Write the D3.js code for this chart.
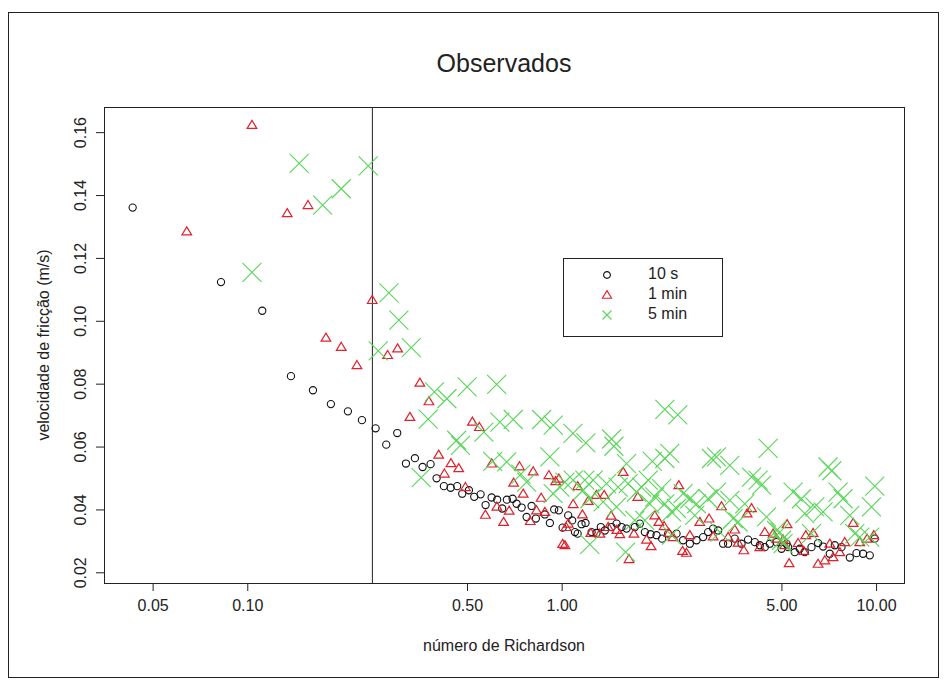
<!DOCTYPE html>
<html>
<head>
<meta charset="utf-8">
<script src="https://cdn.jsdelivr.net/npm/d3@7"></script>
<style>
  html, body { margin: 0; padding: 0; background: #fff; }
  svg { display: block; }
  text { font-family: "Liberation Sans", Arial, sans-serif; fill: #222; }
</style>
</head>
<body>
<svg id="chart" width="949" height="689"></svg>
<script>
// Richardson number (x) and friction velocity in m/s (y), one pair of arrays per averaging window
const ri10s = [0.0432,0.0825,0.1116,0.1377,0.1618,0.1845,0.2090,0.2316,0.2560,0.2767,0.2999,0.3196,0.3414,0.3611,0.3829,0.4001,0.4221,0.4434,0.4653,0.4827,0.5070,0.5271,0.5523,0.5728,0.5986,0.6236,0.6469,0.6696,0.6981,0.7189,0.7458,0.7736,0.8023,0.8279,0.8842,0.9173,0.9467,0.9797,1.007,1.049,1.080,1.102,1.124,1.157,1.191,1.245,1.291,1.332,1.372,1.441,1.495,1.550,1.608,1.709,1.773,1.839,1.918,2.003,2.087,2.181,2.319,2.434,2.557,2.685,2.818,2.923,3.032,3.145,3.262,3.384,3.553,3.733,3.917,4.115,4.268,4.427,4.592,4.824,5.004,5.190,5.252,5.513,5.718,5.932,6.231,6.540,6.785,7.125,7.390,7.762,8.250,8.665,9.092,9.550,9.906];
const u10s = [0.1360,0.1123,0.1032,0.0824,0.0779,0.0735,0.0712,0.0684,0.0658,0.0606,0.0643,0.0546,0.0563,0.0535,0.0544,0.0499,0.0474,0.0469,0.0474,0.0450,0.0461,0.0440,0.0448,0.0414,0.0438,0.0431,0.0403,0.0431,0.0434,0.0418,0.0406,0.0376,0.0411,0.0371,0.0384,0.0357,0.0400,0.0397,0.0342,0.0381,0.0365,0.0328,0.0323,0.0353,0.0357,0.0328,0.0325,0.0344,0.0333,0.0344,0.0355,0.0344,0.0339,0.0344,0.0355,0.0328,0.0321,0.0318,0.0307,0.0323,0.0323,0.0302,0.0291,0.0302,0.0312,0.0328,0.0339,0.0333,0.0291,0.0291,0.0307,0.0291,0.0304,0.0296,0.0286,0.0280,0.0291,0.0296,0.0275,0.0291,0.0280,0.0264,0.0275,0.0264,0.0280,0.0293,0.0282,0.0259,0.0286,0.0280,0.0247,0.0261,0.0259,0.0254,0.0307];

const ri1min = [0.0642,0.1035,0.1340,0.1560,0.1779,0.1990,0.2233,0.2497,0.2795,0.3007,0.3540,0.3782,0.3291,0.4063,0.4444,0.4705,0.4236,0.4941,0.5200,0.5474,0.5990,0.7343,0.8117,0.7033,0.7544,0.9106,0.9570,0.9797,0.8608,0.5720,0.6223,0.6808,0.6535,0.7943,0.8320,0.8842,1.007,1.049,1.088,1.124,1.164,1.214,1.289,1.365,1.569,1.747,1.436,1.406,1.498,1.238,1.323,1.531,1.697,1.638,1.862,1.925,1.978,2.038,2.118,2.192,1.033,1.024,2.358,3.224,2.944,2.750,3.553,4.017,3.890,4.427,4.705,5.212,2.557,2.423,2.495,3.032,3.384,3.640,3.797,4.268,2.262,4.824,5.125,5.290,5.976,6.305,8.452,5.649,5.889,6.540,6.870,7.299,7.666,7.952,7.125,8.875,9.363,9.833,5.062];
const u1min = [0.1284,0.1623,0.1342,0.1368,0.0946,0.0917,0.0859,0.1066,0.0891,0.0912,0.0803,0.0744,0.0694,0.0574,0.0547,0.0531,0.0514,0.0471,0.0679,0.0662,0.0546,0.0537,0.0521,0.0485,0.0450,0.0509,0.0490,0.0498,0.0437,0.0383,0.0409,0.0396,0.0360,0.0363,0.0397,0.0392,0.0290,0.0355,0.0417,0.0474,0.0384,0.0427,0.0446,0.0446,0.0519,0.0440,0.0380,0.0344,0.0335,0.0325,0.0323,0.0321,0.0323,0.0242,0.0304,0.0283,0.0381,0.0360,0.0347,0.0325,0.0344,0.0286,0.0477,0.0410,0.0371,0.0360,0.0336,0.0404,0.0387,0.0328,0.0323,0.0353,0.0318,0.0268,0.0262,0.0314,0.0312,0.0294,0.0270,0.0280,0.0312,0.0307,0.0286,0.0229,0.0318,0.0325,0.0357,0.0293,0.0268,0.0227,0.0238,0.0248,0.0264,0.0296,0.0291,0.0296,0.0307,0.0318,0.0304];

const ri5min = [0.1035,0.1463,0.2425,0.1990,0.1737,0.2822,0.3036,0.2609,0.3323,0.3575,0.3762,0.3937,0.4315,0.4636,0.4764,0.5004,0.5657,0.6213,0.6034,0.6360,0.6685,0.7012,0.7420,0.7736,0.8633,0.9173,0.9397,0.9397,0.9869,1.086,1.088,1.194,1.229,1.229,1.259,1.389,1.441,1.466,1.598,1.608,1.730,1.907,1.943,2.129,2.341,2.129,1.024,1.185,1.170,1.627,1.512,1.795,1.884,2.078,1.978,2.129,1.355,1.495,1.709,1.839,2.236,2.208,2.997,3.108,3.426,4.536,4.017,4.215,4.322,2.434,2.557,3.108,2.685,2.923,2.319,2.651,3.511,3.640,3.426,3.824,4.482,4.824,5.062,3.184,2.236,7.037,7.228,5.445,5.790,9.906,7.571,7.854,6.384,5.932,6.785,9.669,8.250,4.941,6.231,8.557,9.550,8.875,5.004];
const u5min = [0.1154,0.1501,0.1493,0.1420,0.1368,0.1089,0.1002,0.0904,0.0915,0.0501,0.0687,0.0774,0.0752,0.0620,0.0604,0.0790,0.0646,0.0798,0.0553,0.0678,0.0551,0.0686,0.0512,0.0487,0.0686,0.0567,0.0668,0.0450,0.0471,0.0642,0.0493,0.0612,0.0434,0.0289,0.0493,0.0482,0.0624,0.0601,0.0264,0.0546,0.0455,0.0418,0.0553,0.0718,0.0701,0.0562,0.0487,0.0493,0.0461,0.0482,0.0471,0.0471,0.0493,0.0466,0.0440,0.0418,0.0424,0.0408,0.0365,0.0365,0.0392,0.0578,0.0562,0.0567,0.0540,0.0594,0.0503,0.0493,0.0477,0.0450,0.0434,0.0455,0.0418,0.0434,0.0403,0.0381,0.0371,0.0360,0.0429,0.0418,0.0376,0.0333,0.0291,0.0328,0.0318,0.0535,0.0523,0.0455,0.0434,0.0474,0.0455,0.0434,0.0408,0.0387,0.0392,0.0408,0.0381,0.0328,0.0323,0.0323,0.0312,0.0312,0.0302];

const xTicks = [0.05, 0.1, 0.5, 1, 5, 10];
const xTickLabels = ["0.05", "0.10", "0.50", "1.00", "5.00", "10.00"];
const yTicks = [0.02, 0.04, 0.06, 0.08, 0.10, 0.12, 0.14, 0.16];
const yTickLabels = ["0.02", "0.04", "0.06", "0.08", "0.10", "0.12", "0.14", "0.16"];
const riThreshold = 0.25;
const seriesNames = ["10 s", "1 min", "5 min"];

const title = "Observados";
const xTitle = "número de Richardson";
const yTitle = "velocidade de fricção (m/s)";

// ---- layout ----
const svg = d3.select("#chart");
const plot = { left: 104, right: 904, top: 107, bottom: 583 };

const x = d3.scaleLog().domain([0.03502, 12.27]).range([plot.left, plot.right]);
const y = d3.scaleLinear().domain([0.0166, 0.168]).range([plot.bottom, plot.top]);

const colCircle = "#111";
const colTri = "#e0202a";
const colCross = "#58d658";
const colText = "#333";

// outer frame of the figure
svg.append("rect")
  .attr("x", 8.5).attr("y", 12.5).attr("width", 930).attr("height", 665)
  .attr("fill", "none").attr("stroke", "#222").attr("stroke-width", 1);

// title
svg.append("text")
  .attr("x", (plot.left + plot.right) / 2).attr("y", 65)
  .attr("text-anchor", "middle").attr("dominant-baseline", "middle")
  .style("font-size", "25px")
  .text(title);

// x axis
const gx = svg.append("g")
  .attr("transform", `translate(0,${plot.bottom})`)
  .call(d3.axisBottom(x).tickValues(xTicks)
    .tickFormat((d, i) => xTickLabels[i]).tickSize(8).tickPadding(9));
gx.select(".domain").remove();
gx.selectAll(".tick line").attr("stroke", "#222");
gx.selectAll(".tick text").style("font-size", "16px").style("font-family", "Liberation Sans, Arial, sans-serif").attr("fill", colText);

// y axis with labels parallel to the axis
const gy = svg.append("g")
  .attr("transform", `translate(${plot.left},0)`)
  .call(d3.axisLeft(y).tickValues(yTicks)
    .tickFormat((d, i) => yTickLabels[i]).tickSize(8));
gy.select(".domain").remove();
gy.selectAll(".tick line").attr("stroke", "#222");
gy.selectAll(".tick text")
  .attr("x", null).attr("dy", null)
  .attr("text-anchor", "middle")
  .attr("transform", "translate(-18,0) rotate(-90)")
  .style("font-size", "16px").style("font-family", "Liberation Sans, Arial, sans-serif").attr("fill", colText);

// axis titles
svg.append("text")
  .attr("x", (plot.left + plot.right) / 2).attr("y", 647)
  .attr("text-anchor", "middle").attr("dominant-baseline", "middle")
  .style("font-size", "16px").attr("fill", colText)
  .text(xTitle);
svg.append("text")
  .attr("transform", `translate(45,${(plot.top + plot.bottom) / 2}) rotate(-90)`)
  .attr("text-anchor", "middle").attr("dominant-baseline", "middle")
  .style("font-size", "16px").attr("fill", colText)
  .text(yTitle);

// plot box
svg.append("rect")
  .attr("x", plot.left + 0.5).attr("y", plot.top + 0.5)
  .attr("width", plot.right - plot.left).attr("height", plot.bottom - plot.top)
  .attr("fill", "none").attr("stroke", "#222");

// threshold line
svg.append("line")
  .attr("x1", x(riThreshold)).attr("x2", x(riThreshold))
  .attr("y1", plot.top).attr("y2", plot.bottom)
  .attr("stroke", "#222");

// marker generators
const circlePath = r => `M${-r},0a${r},${r} 0 1,0 ${2*r},0a${r},${r} 0 1,0 ${-2*r},0Z`;
const triPath = s => `M0,${-s}L${s*1.05},${s*0.75}L${-s*1.05},${s*0.75}Z`;
const crossPath = s => `M${-s},${-s}L${s},${s}M${-s},${s}L${s},${-s}`;

const marks = svg.append("g");

// 10 s: open circles
marks.append("g").selectAll("path")
  .data(d3.zip(ri10s, u10s)).join("path")
  .attr("transform", d => `translate(${x(d[0])},${y(d[1])})`)
  .attr("d", circlePath(3.6))
  .attr("fill", "none").attr("stroke", colCircle).attr("stroke-width", 1.1);

// 1 min: open triangles
marks.append("g").selectAll("path")
  .data(d3.zip(ri1min, u1min)).join("path")
  .attr("transform", d => `translate(${x(d[0])},${y(d[1])})`)
  .attr("d", triPath(4.6))
  .attr("fill", "none").attr("stroke", colTri).attr("stroke-width", 1.2);

// 5 min: large crosses
marks.append("g").selectAll("path")
  .data(d3.zip(ri5min, u5min)).join("path")
  .attr("transform", d => `translate(${x(d[0])},${y(d[1])})`)
  .attr("d", crossPath(9.5))
  .attr("fill", "none").attr("stroke", colCross).attr("stroke-width", 1.1);

// legend
const leg = svg.append("g").attr("transform", "translate(563,258)");
leg.append("rect").attr("x", 0.5).attr("y", 0.5).attr("width", 159).attr("height", 78)
  .attr("fill", "#fff").attr("stroke", "#222");
const legRows = [
  { d: circlePath(3.4), c: colCircle },
  { d: triPath(4.4), c: colTri },
  { d: crossPath(4.5), c: colCross }
];
legRows.forEach((r, i) => {
  const yy = 17 + i * 20;
  leg.append("path").attr("transform", `translate(44,${yy})`)
    .attr("d", r.d).attr("fill", "none").attr("stroke", r.c).attr("stroke-width", 1.1);
  leg.append("text").attr("x", 85).attr("y", yy)
    .attr("dominant-baseline", "middle").style("font-size", "16px").attr("fill", "#222")
    .text(seriesNames[i]);
});
</script>
</body>
</html>
